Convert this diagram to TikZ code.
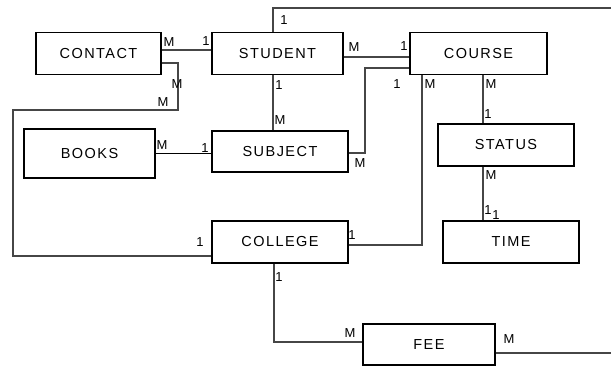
\documentclass[tikz,border=0pt]{standalone}
\usepackage{fontspec}
\setmainfont{Liberation Sans}
\newfontfamily\entfont[LetterSpace=10]{Liberation Sans}
\usetikzlibrary{positioning}

\begin{document}
\begin{tikzpicture}[
  x=1pt,y=-1pt,
  entity/.style={draw=black,fill=white,line width=1.4pt,
    minimum width=#1,minimum height=42pt,inner sep=0pt,
    font=\entfont\fontsize{14.5}{16}\selectfont},
  entity/.default=136pt,
  link/.style={draw=gray!55!black,line width=1.8pt},
  thin link/.style={draw=black,line width=1pt},
  card/.style={font=\fontsize{13}{15}\selectfont,inner sep=0pt}]

  \useasboundingbox (0,0) rectangle (611,367);

  % entities
  \node[entity=125pt] (contact) at (98.5,53.5) {CONTACT};
  \node[entity=131pt] (student) at (277.5,53.5) {STUDENT};
  \node[entity=137pt] (course) at (478.5,53.5) {COURSE};
  \node[entity=131pt,minimum height=49pt] (books) at (89.5,153.5) {BOOKS};
  \node[entity,minimum height=41pt] (subject) at (280,151.5) {SUBJECT};
  \node[entity] (status) at (506,145) {STATUS};
  \node[entity] (college) at (280,242) {COLLEGE};
  \node[entity] (time) at (511,242) {TIME};
  \node[entity=132pt,minimum height=41pt] (fee) at (429,344.5) {FEE};

  % relationships
  \draw[link] ([yshift=3.5pt]contact.east) -- ([yshift=3.5pt]student.west);
  \draw[link] ([yshift=-3.5pt]student.east) -- ([yshift=-3.5pt]course.west);
  \draw[link] ([yshift=-9.5pt]contact.east) -| (178,110) -| (13,256)
    -- ([yshift=-14pt]college.west);
  \draw[link] ([xshift=-4.5pt]student.south) -- ([xshift=-7pt]subject.north);
  \draw[thin link] (books.east) -- (subject.west |- books.east);
  \draw[link] ([yshift=-14.5pt]course.west) -| (365,153)
    -- ([yshift=-1.5pt]subject.east);
  \draw[link] ([xshift=-56.5pt]course.south) |- ([yshift=-3pt]college.east);
  \draw[link] ([xshift=4.5pt]course.south) -- ([xshift=-23pt]status.north);
  \draw[link] ([xshift=-23pt]status.south) -- ([xshift=-28pt]time.north);
  \draw[link] ([xshift=-6pt]college.south) |- ([yshift=2.5pt]fee.west);
  \draw[link] ([yshift=-8.5pt]fee.east) -| (614,8) -| ([xshift=-4.5pt]student.north);

  % cardinalities
  \node[card] (c1) at (284,20) {1};
  \node[card] (c2) at (169,42) {M};
  \node[card] (c3) at (206,41) {1};
  \node[card] (c4) at (177,84) {M};
  \node[card] (c5) at (163,102) {M};
  \node[card] (c6) at (279,85) {1};
  \node[card] (c7) at (280,120) {M};
  \node[card] (c8) at (354,47) {M};
  \node[card] (c9) at (404,46) {1};
  \node[card] (c10) at (397,84) {1};
  \node[card] (c11) at (430,84) {M};
  \node[card] (c12) at (491,84) {M};
  \node[card] (c13) at (488,114) {1};
  \node[card] (c14) at (360,163) {M};
  \node[card] (c15) at (162,145) {M};
  \node[card] (c16) at (205,148) {1};
  \node[card] (c17) at (491,175) {M};
  \node[card] (c18) at (488,210) {1};
  \node[card] (c19) at (496,215) {1};
  \node[card] (c20) at (352,235) {1};
  \node[card] (c21) at (200,242) {1};
  \node[card] (c22) at (279,277) {1};
  \node[card] (c23) at (350,333) {M};
  \node[card] (c24) at (509,339) {M};
\end{tikzpicture}
\end{document}
